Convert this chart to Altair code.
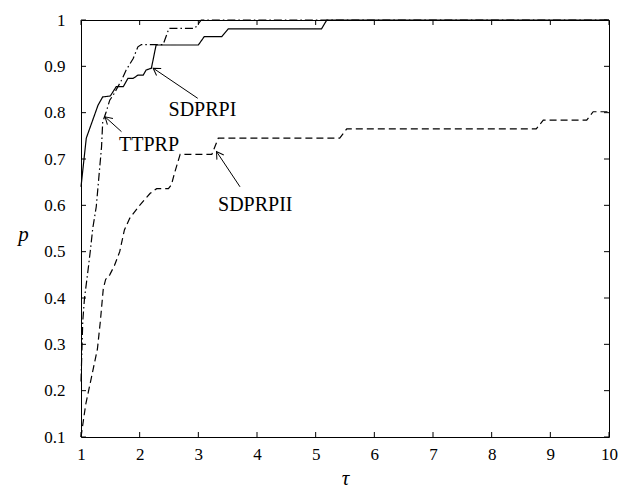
import math
import altair as alt
import pandas as pd

# ---- data ----
tau_sdprpi = [1.00, 1.09, 1.29, 1.37, 1.50, 1.60, 1.72, 1.80, 1.89, 1.97, 2.06, 2.11, 2.20, 2.28,
              3.00, 3.10, 3.40, 3.51, 5.10, 5.19, 10.0]
p_sdprpi = [0.64, 0.745, 0.816, 0.834, 0.836, 0.856, 0.856, 0.874, 0.874, 0.881, 0.881, 0.892, 0.896, 0.946,
            0.946, 0.964, 0.964, 0.981, 0.981, 1.0, 1.0]

tau_ttprp = [1.00, 1.03, 1.06, 1.09, 1.12, 1.16, 1.20, 1.26, 1.32, 1.35, 1.37, 1.43, 1.49, 1.55, 1.69, 1.77,
             1.89, 1.97, 2.03, 2.40, 2.50, 2.94, 3.05, 10.0]
p_ttprp = [0.22, 0.35, 0.40, 0.43, 0.46, 0.503, 0.55, 0.597, 0.683, 0.726, 0.78, 0.802, 0.827, 0.838, 0.87, 0.892,
           0.917, 0.942, 0.947, 0.947, 0.982, 0.982, 1.0, 1.0]

tau_sdprpii = [1.00, 1.08, 1.18, 1.28, 1.33, 1.38, 1.42, 1.49, 1.57, 1.66, 1.74, 1.83, 2.00, 2.18, 2.29, 2.49,
               2.54, 2.60, 2.69, 3.23, 3.34, 5.41, 5.53, 8.76, 8.88, 9.62, 9.73, 10.0]
p_sdprpii = [0.10, 0.17, 0.23, 0.29, 0.35, 0.42, 0.44, 0.45, 0.47, 0.50, 0.547, 0.572, 0.60, 0.626, 0.636, 0.636,
             0.644, 0.672, 0.71, 0.71, 0.745, 0.745, 0.765, 0.765, 0.784, 0.784, 0.802, 0.802]

series_names = ["SDPRPI", "SDPRPII", "TTPRP"]

# annotations: label text, label position, arrow start, arrow tip
ann_text = ["SDPRPI", "TTPRP", "SDPRPII"]
ann_tau = [3.07, 2.16, 3.97]
ann_p = [0.806, 0.73, 0.60]
arr_start_tau = [2.99, 1.69, 3.71]
arr_start_p = [0.831, 0.759, 0.64]
arr_tip_tau = [2.23, 1.41, 3.31]
arr_tip_p = [0.896, 0.791, 0.716]

x_ticks = [1, 2, 3, 4, 5, 6, 7, 8, 9, 10]
y_ticks = [0.1, 0.2, 0.3, 0.4, 0.5, 0.6, 0.7, 0.8, 0.9, 1.0]

# ---- layout ----
W, H = 528, 417
SERIF = "Liberation Serif, Times New Roman, serif"

rows = []
for name, ts, ps in [("SDPRPI", tau_sdprpi, p_sdprpi),
                     ("TTPRP", tau_ttprp, p_ttprp),
                     ("SDPRPII", tau_sdprpii, p_sdprpii)]:
    for i, (t, p) in enumerate(zip(ts, ps)):
        rows.append({"series": name, "tau": t, "p": p, "idx": i})
df = pd.DataFrame(rows)

xs = alt.Scale(domain=[1, 10], nice=False, zero=False)
ys = alt.Scale(domain=[0.1, 1.0], nice=False, zero=False)

x_axis = alt.Axis(
    values=x_ticks, format="d", grid=False, domain=False, ticks=False, labelFlush=False,
    labelFont=SERIF, labelFontSize=17, labelColor="black", labelPadding=9,
    titleFont=SERIF, titleFontSize=21, titleFontStyle="italic", titleFontWeight="normal",
    titleColor="black", titleY=41, titleBaseline="middle")
y_axis = alt.Axis(
    values=y_ticks, format=".1~f", grid=False, domain=False, ticks=False, labelFlush=False,
    labelFont=SERIF, labelFontSize=17, labelColor="black", labelPadding=16,
    titleFont=SERIF, titleFontSize=21, titleFontStyle="italic", titleFontWeight="normal",
    titleColor="black", titleAngle=0, titleX=-58, titleY=214, titleAlign="center",
    titleBaseline="middle")


def X(field):
    return alt.X(field, scale=xs, axis=x_axis, title="τ")


def Y(field):
    return alt.Y(field, scale=ys, axis=y_axis, title="p")


lines = alt.Chart(df).mark_line(color="black", strokeWidth=1.2).encode(
    x=X("tau:Q"),
    y=Y("p:Q"),
    strokeDash=alt.StrokeDash("series:N", scale=alt.Scale(
        domain=series_names, range=[[1, 0], [7, 4], [8, 3, 1.5, 3]]), legend=None),
    detail="series:N",
    order="idx:Q",
)

# inward ticks on all four sides
xt = pd.DataFrame({"tau": x_ticks})
yt = pd.DataFrame({"p": y_ticks})
tb = alt.Chart(xt).mark_rule(color="black", strokeWidth=1).encode(
    x=X("tau:Q"), y=alt.value(H), y2=alt.value(H - 5))
tt = alt.Chart(xt).mark_rule(color="black", strokeWidth=1).encode(
    x=X("tau:Q"), y=alt.value(0), y2=alt.value(5))
tl = alt.Chart(yt).mark_rule(color="black", strokeWidth=1).encode(
    y=Y("p:Q"), x=alt.value(0), x2=alt.value(5))
tr = alt.Chart(yt).mark_rule(color="black", strokeWidth=1).encode(
    y=Y("p:Q"), x=alt.value(W - 5), x2=alt.value(W))

# annotation arrows
arows = []
heads = []
for k in range(len(ann_text)):
    arows.append({"id": k, "tau": arr_start_tau[k], "p": arr_start_p[k], "o": 0})
    arows.append({"id": k, "tau": arr_tip_tau[k], "p": arr_tip_p[k], "o": 1})
    sx = (arr_start_tau[k] - 1) / 9 * W
    sy = (1 - arr_start_p[k]) / 0.9 * H
    ex = (arr_tip_tau[k] - 1) / 9 * W
    ey = (1 - arr_tip_p[k]) / 0.9 * H
    ang = math.degrees(math.atan2(ey - sy, ex - sx)) % 360
    heads.append({"tau": arr_tip_tau[k], "p": arr_tip_p[k], "ang": ang})
adf = pd.DataFrame(arows)
hdf = pd.DataFrame(heads)

arrow_lines = alt.Chart(adf).mark_line(color="black", strokeWidth=1).encode(
    x=X("tau:Q"), y=Y("p:Q"), detail="id:N", order="o:Q")
arrow_heads = alt.Chart(hdf).mark_point(
    shape="M -1 -0.6 L 0 0 L -1 0.6", filled=False, size=190, color="black",
    strokeWidth=1, opacity=1).encode(
    x=X("tau:Q"), y=Y("p:Q"), angle=alt.Angle("ang:Q", scale=None))

tdf = pd.DataFrame({"text": ann_text, "tau": ann_tau, "p": ann_p})
labels = alt.Chart(tdf).mark_text(font=SERIF, fontSize=20, color="black",
                                  align="center", baseline="middle").encode(
    x=X("tau:Q"), y=Y("p:Q"), text="text:N")

chart = alt.layer(lines, tb, tt, tl, tr, arrow_lines, arrow_heads, labels).properties(
    width=W, height=H,
    autosize=alt.AutoSizeParams(type="none"),
    padding={"left": 73, "top": 12, "right": 16, "bottom": 56},
    background="white",
).configure_view(stroke="black", strokeWidth=1)

chart.save("out.html", embed_options={"renderer": "svg", "actions": False})
